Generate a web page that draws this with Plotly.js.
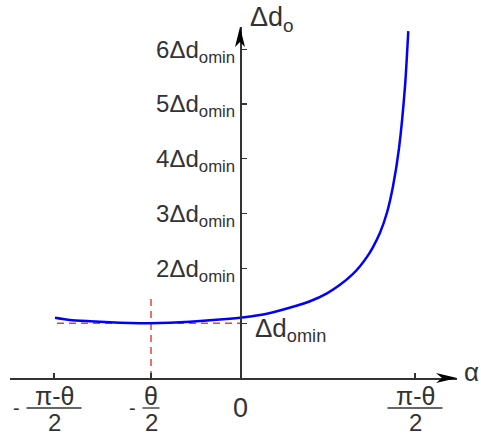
<!DOCTYPE html>
<html>
<head>
<meta charset="utf-8">
<script src="https://cdn.plot.ly/plotly-3.0.1.min.js"></script>
<style>html,body{margin:0;padding:0;background:#fff;}#chart{width:481px;height:436px;}</style>
</head>
<body>
<div id="chart"></div>
<script>
// Data (alpha in arbitrary linear units, delta in units of Δd_omin)
const curveAlpha = [-185, -170, -150, -130, -110, -90, -70, -50, -30, -10, 0, 20, 36, 53, 70, 87, 100, 113, 120, 127, 133, 140, 147, 153, 159, 165, 168.3];
const curveDelta = [1.10, 1.058, 1.035, 1.016, 1.004, 1.0, 1.009, 1.027, 1.055, 1.082, 1.10, 1.15, 1.215, 1.30, 1.40, 1.545, 1.70, 1.90, 2.04, 2.21, 2.39, 2.65, 3.02, 3.50, 4.19, 5.32, 6.33];
const minLineAlpha = [-183, 0];
const minLineDelta = [1, 1];
const optAlpha = [-89, -89];
const optDelta = [0, 1.46];
const xTickVals = [-186, -89, 0, 175];
const xTickNum = ['π-θ', 'θ', '0', 'π-θ'];
const xTickDen = ['2', '2', '', '2'];
const xTickSign = ['-', '-', '', ''];
const yTickVals = [1, 2, 3, 4, 5, 6];
const yTickText = ['', '2Δd<sub>omin</sub>', '3Δd<sub>omin</sub>', '4Δd<sub>omin</sub>', '5Δd<sub>omin</sub>', '6Δd<sub>omin</sub>'];
const xRange = [-230, 217];
const yRange = [0, 6.405];

const axisColor = '#333333';
const font = 'Liberation Sans, Arial, sans-serif';
const yAxisPos = (0 - xRange[0]) / (xRange[1] - xRange[0]);
const plotH = 436 - 27 - 58;

const traces = [
  {x: minLineAlpha, y: minLineDelta, mode: 'lines', line: {color: '#e8403a', width: 1.5, dash: '7px,5px'}, hoverinfo: 'skip', cliponaxis: false},
  {x: optAlpha, y: optDelta, mode: 'lines', line: {color: '#e8403a', width: 1.5, dash: '7px,5px'}, hoverinfo: 'skip'},
  {x: curveAlpha, y: curveDelta, mode: 'lines', line: {color: '#0000ff', width: 2.5, shape: 'spline', smoothing: 0.6}, cliponaxis: false}
];

const annotations = [];
const shapes = [];
xTickVals.forEach((v, i) => {
  if (xTickDen[i]) {
    annotations.push({x: v, xref: 'x', y: 0, yref: 'paper', yshift: -18, text: xTickNum[i], showarrow: false, xanchor: 'center', yanchor: 'middle', font: {family: font, size: 25, color: axisColor}});
    annotations.push({x: v, xref: 'x', y: 0, yref: 'paper', yshift: -44.5, text: xTickDen[i], showarrow: false, xanchor: 'center', yanchor: 'middle', font: {family: font, size: 24, color: axisColor}});
    const half = xTickNum[i].length > 1 ? 27.5 : 8.5;
    shapes.push({type: 'line', xref: 'x', yref: 'paper', x0: v - half, x1: v + half, y0: -30 / plotH, y1: -30 / plotH, line: {color: axisColor, width: 1.3}});
    if (xTickSign[i]) {
      annotations.push({x: v, xref: 'x', xshift: -(half + 10), y: 0, yref: 'paper', yshift: -30, text: xTickSign[i], showarrow: false, xanchor: 'center', yanchor: 'middle', font: {family: font, size: 20, color: axisColor}});
    }
  } else {
    annotations.push({x: v, xref: 'x', y: 0, yref: 'paper', yshift: -30, text: xTickNum[i], showarrow: false, xanchor: 'center', yanchor: 'middle', font: {family: font, size: 27, color: axisColor}});
  }
});
annotations.push({x: 0, xref: 'x', xshift: 13, y: 1, yref: 'y', yshift: -6, text: 'Δd<sub>omin</sub>', showarrow: false, xanchor: 'left', yanchor: 'middle', font: {family: font, size: 26, color: axisColor}});
annotations.push({x: 0, xref: 'x', xshift: 8, y: 1, yref: 'paper', yshift: 8, text: 'Δd<sub>o</sub>', showarrow: false, xanchor: 'left', yanchor: 'middle', font: {family: font, size: 27, color: axisColor}});
annotations.push({x: xRange[1], xref: 'x', xshift: 14, y: 0, yref: 'paper', yshift: 6, text: 'α', showarrow: false, xanchor: 'center', yanchor: 'middle', font: {family: font, size: 26, color: axisColor}});

// arrowheads
shapes.push({type: 'path', xref: 'x', yref: 'paper', xsizemode: 'pixel', ysizemode: 'pixel', xanchor: xRange[1], yanchor: 0, path: 'M0,0 L-21,5 L-15,0 L-21,-5 Z', fillcolor: '#000', line: {width: 0}});
shapes.push({type: 'path', xref: 'x', yref: 'paper', xsizemode: 'pixel', ysizemode: 'pixel', xanchor: 0, yanchor: 1, path: 'M0,0 L-5,-20 L0,-15 L5,-20 Z', fillcolor: '#000', line: {width: 0}});

const layout = {
  width: 481, height: 436,
  margin: {l: 10, r: 24, t: 27, b: 58, pad: 0},
  paper_bgcolor: '#fff', plot_bgcolor: '#fff',
  showlegend: false,
  font: {family: font, color: axisColor},
  xaxis: {range: xRange, showgrid: false, zeroline: false, showline: true, linecolor: axisColor, linewidth: 1.5,
          tickmode: 'array', tickvals: [xTickVals[0], xTickVals[1], xTickVals[3]], ticks: 'inside', ticklen: 5, tickwidth: 1.3, tickcolor: axisColor, showticklabels: false, fixedrange: true},
  yaxis: {range: yRange, anchor: 'free', position: yAxisPos, showgrid: false, zeroline: false, showline: true, linecolor: axisColor, linewidth: 1.5,
          tickmode: 'array', tickvals: yTickVals, ticktext: yTickText, ticks: 'inside', ticklen: 5, tickwidth: 1.3, tickcolor: axisColor,
          tickfont: {family: font, size: 24, color: axisColor}, fixedrange: true},
  annotations: annotations,
  shapes: shapes
};
Plotly.newPlot('chart', traces, layout, {displayModeBar: false, staticPlot: true});
</script>
</body>
</html>
